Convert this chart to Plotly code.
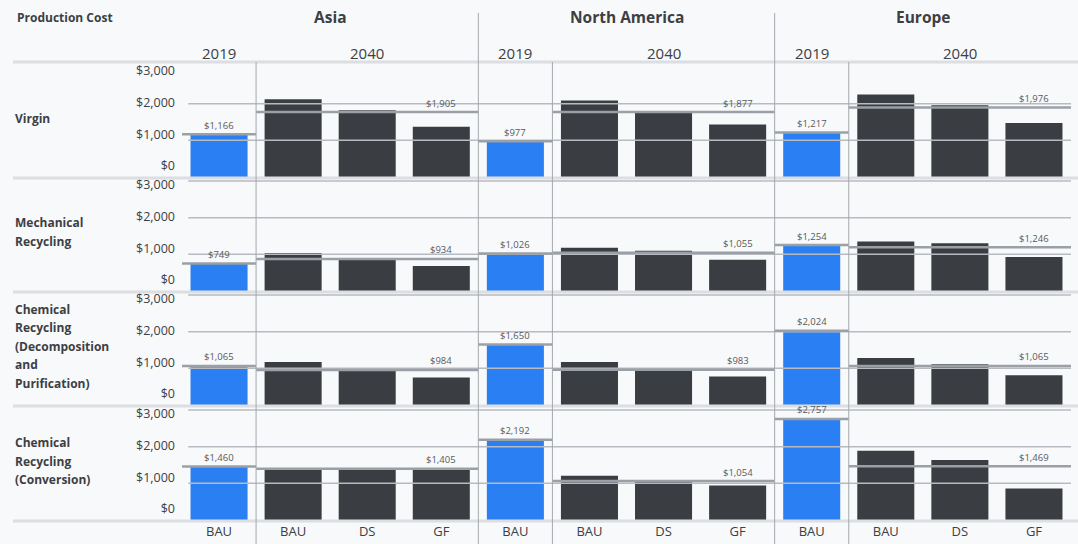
import plotly.graph_objects as go
import numpy as np

W, H = 1078, 544

# ---------------- data ----------------
regions = ["Asia", "North America", "Europe"]
scenarios = ["BAU", "BAU", "DS", "GF"]          # 2019 BAU, 2040 BAU / DS / GF
years = ["2019", "2040"]
row_labels = [
    "Virgin",
    "Mechanical\nRecycling",
    "Chemical\nRecycling\n(Decomposition\nand\nPurification)",
    "Chemical\nRecycling\n(Conversion)",
]

# values per row: Asia (2019 BAU, 2040 BAU, DS, GF), North America (...), Europe (...)
virgin     = [1166, 2120, 1820, 1370,   977, 2090, 1800, 1430,  1217, 2250, 1960, 1470]
mechanical = [ 749, 1040,  900,  680,  1026, 1180, 1100,  850,  1254, 1350, 1300,  930]
chem_dp    = [1065, 1170,  950,  750,  1650, 1170,  940,  780,  2024, 1280, 1110,  810]
chem_conv  = [1460, 1400, 1400, 1400,  2192, 1210, 1040,  940,  2757, 1890, 1640,  860]

# labels shown on the 2040 reference line (Asia, North America, Europe)
virgin_2040     = [1905, 1877, 1976]
mechanical_2040 = [934, 1055, 1246]
chem_dp_2040    = [984, 983, 1065]
chem_conv_2040  = [1405, 1054, 1469]

y_tick_vals = [0, 1000, 2000, 3000]
y_tick_text = ["$0", "$1,000", "$2,000", "$3,000"]

rows_values = [virgin, mechanical, chem_dp, chem_conv]
rows_2040 = [virgin_2040, mechanical_2040, chem_dp_2040, chem_conv_2040]

# ---------------- style ----------------
FONT = "Open Sans"
TXT = "#3c4043"
BLUE = "#2a80f2"
DARK = "#3a3e42"
BG = "#f8f9fa"
SEP = "#dcdee2"
GRID = "#b7bbc1"
VLINE = "#a4a8ae"
REFLINE = "#9aa0a6"
VAL_TXT = "#55595e"

def px(p):
    return p / W

def py(p):
    return 1 - p / H

row_bottoms = [177, 291, 405, 520]
row_h = 114
y_max = 3110
# the tick labels in the reference sit on a slightly compressed scale
label_range = [-347, 3249]

n = len(regions) * len(scenarios)
xs = list(range(n))
tick_text_x = scenarios * len(regions)
colors = ([BLUE] + [DARK] * 3) * len(regions)

fig = go.Figure()
layout = dict(
    width=W, height=H,
    margin=dict(l=0, r=0, t=0, b=0),
    paper_bgcolor=BG, plot_bgcolor=BG,
    showlegend=False,
    font=dict(family=FONT, color=TXT),
    xaxis=dict(
        domain=[px(182), px(1071)], range=[-0.5, n - 0.5],
        tickvals=xs, ticktext=tick_text_x, showgrid=False, zeroline=False,
        showline=False, ticks="", tickfont=dict(size=13, color=TXT),
        ticklabelstandoff=2, anchor="y4", fixedrange=True, automargin=False,
    ),
)

shapes = []
annotations = []

for r, vals in enumerate(rows_values):
    yname = "y" if r == 0 else f"y{r+1}"
    axkey = "yaxis" if r == 0 else f"yaxis{r+1}"
    lab_name = f"y{r+5}"
    lab_key = f"yaxis{r+5}"
    bottom = row_bottoms[r]
    dom = [py(bottom), py(bottom - row_h)]
    layout[axkey] = dict(
        domain=dom, range=[0, y_max], showticklabels=False,
        showgrid=False, zeroline=False, showline=False, ticks="",
        anchor="x", fixedrange=True, automargin=False,
    )
    layout[lab_key] = dict(
        overlaying=yname, range=label_range, side="left",
        tickvals=y_tick_vals, ticktext=y_tick_text, showgrid=False,
        zeroline=False, showline=False, ticks="",
        tickfont=dict(size=12.5, color=TXT), ticklabelstandoff=6,
        anchor="x", fixedrange=True, automargin=False,
    )
    fig.add_trace(go.Bar(
        x=xs, y=vals, yaxis=yname, xaxis="x",
        marker=dict(color=colors, line=dict(width=0)), width=0.77,
        hoverinfo="skip",
    ))
    fig.add_trace(go.Scatter(x=[None], y=[None], xaxis="x", yaxis=lab_name,
                             mode="markers", hoverinfo="skip"))
    # gridlines above bars
    for v in y_tick_vals[1:]:
        if r == 0 and v == 3000:
            continue
        shapes.append(dict(type="line", xref="x domain", yref=yname,
                           x0=0.007, x1=1, y0=v, y1=v,
                           line=dict(color=GRID, width=1.5), layer="above"))
    for g in range(len(regions)):
        i0 = g * len(scenarios)
        v19 = vals[i0]
        shapes.append(dict(type="line", xref="x", yref=yname,
                           x0=i0 - 0.5, x1=i0 + 0.5, y0=v19, y1=v19,
                           line=dict(color=REFLINE, width=2.5), layer="above"))
        annotations.append(dict(x=i0, y=v19, xref="x", yref=yname,
                                text=f"${v19:,}", showarrow=False, yshift=9,
                                font=dict(size=9.5, color=VAL_TXT)))
        m = float(np.mean(vals[i0 + 1:i0 + 4]))
        shapes.append(dict(type="line", xref="x", yref=yname,
                           x0=i0 + 0.5, x1=i0 + 3.5, y0=m, y1=m,
                           line=dict(color=REFLINE, width=2.5), layer="above"))
        annotations.append(dict(x=i0 + 3, y=m, xref="x", yref=yname,
                                text=f"${rows_2040[r][g]:,}", showarrow=False, yshift=9,
                                font=dict(size=9.5, color=VAL_TXT)))
    # row label (one annotation per line)
    lines = row_labels[r].split("\n")
    center = bottom - row_h / 2 - 2
    for k, t in enumerate(lines):
        annotations.append(dict(x=px(13), y=py(center), xref="paper", yref="paper",
                                xanchor="left", yanchor="middle", showarrow=False,
                                yshift=((len(lines) - 1) / 2 - k) * 18.5,
                                text=f"<b>{t}</b>", font=dict(size=12, color=TXT)))

# horizontal row separators
for yy in [62] + [b + 1 for b in row_bottoms]:
    shapes.append(dict(type="line", xref="paper", yref="paper",
                       x0=px(13), x1=1, y0=py(yy), y1=py(yy),
                       line=dict(color=SEP, width=3), layer="above"))

# vertical separators
for g in range(len(regions)):
    i0 = g * len(scenarios)
    shapes.append(dict(type="line", xref="x", yref="paper",
                       x0=i0 + 0.5, x1=i0 + 0.5, y0=0, y1=py(62),
                       line=dict(color=VLINE, width=1), layer="above"))
    if g > 0:
        shapes.append(dict(type="line", xref="x", yref="paper",
                           x0=i0 - 0.5, x1=i0 - 0.5, y0=0, y1=py(13),
                           line=dict(color=VLINE, width=1), layer="above"))
    # region title
    annotations.append(dict(x=i0 + 1.5, y=py(17), xref="x", yref="paper",
                            text=f"<b>{regions[g]}</b>", showarrow=False,
                            yanchor="middle", font=dict(size=15.5, color=TXT)))
    # year labels
    annotations.append(dict(x=i0, y=py(53), xref="x", yref="paper",
                            text=years[0], showarrow=False, yanchor="middle",
                            font=dict(size=15, color=TXT)))
    annotations.append(dict(x=i0 + 2, y=py(53), xref="x", yref="paper",
                            text=years[1], showarrow=False, yanchor="middle",
                            font=dict(size=15, color=TXT)))

annotations.append(dict(x=px(15), y=py(17), xref="paper", yref="paper",
                        text="<b>Production Cost</b>", showarrow=False,
                        xanchor="left", yanchor="middle",
                        font=dict(size=12, color=TXT)))

layout["shapes"] = shapes
layout["annotations"] = annotations
fig.update_layout(**layout)
fig.write_html("out.html", config={"displayModeBar": False})
